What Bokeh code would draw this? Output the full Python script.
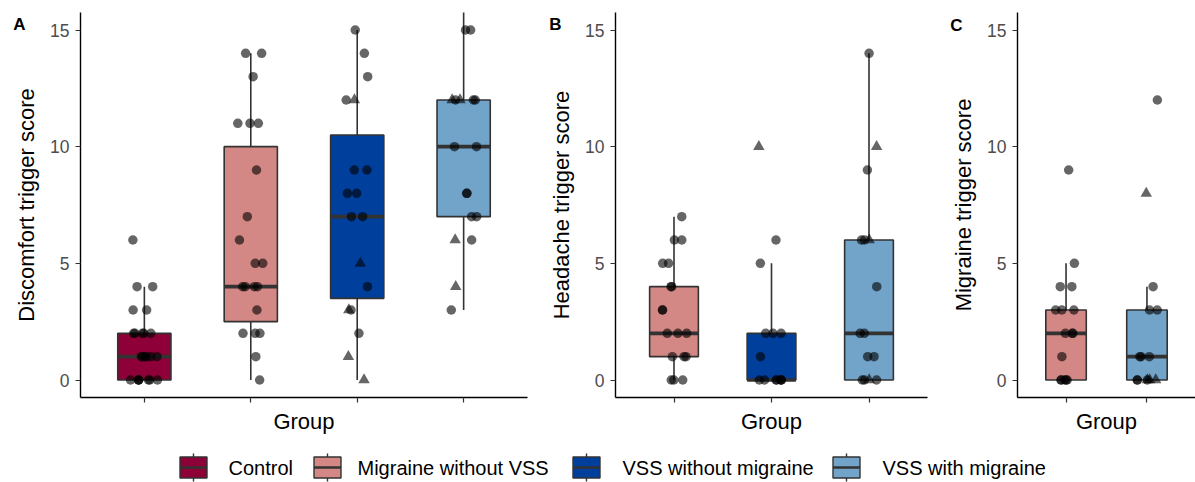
import numpy as np
from bokeh.plotting import figure
from bokeh.layouts import row
from bokeh.models import Range1d, FixedTicker, GridBox
from bokeh.embed import file_html
from bokeh.resources import INLINE
from bokeh.core.properties import value

FONT = "Liberation Sans"

groups = ["Control", "Migraine without VSS", "VSS without migraine", "VSS with migraine"]
group_colors = ["#8E0038", "#D38885", "#003F9B", "#72A3C9"]

# ---- Panel A: discomfort trigger score (all four groups) ----
a_groups = [0, 1, 2, 3]
a_circles = [
    [6, 4, 4, 3, 3, 2, 2, 2, 2, 2, 1, 1, 1, 1, 1, 1, 0, 0, 0, 0, 0, 0, 0],
    [14, 14, 13, 11, 11, 11, 9, 7, 6, 5, 5, 4, 4, 4, 4, 3, 2, 2, 2, 1, 0],
    [15, 14, 13, 12, 9, 9, 8, 8, 7, 7, 4, 3, 2],
    [15, 15, 12, 12, 12, 10, 10, 8, 8, 7, 7, 6, 3],
]
a_triangles = [
    [],
    [],
    [12, 5, 3, 1, 0],
    [12, 12, 6, 4],
]
a_lower = [0, 0, 0, 3]
a_q1 = [0, 2.5, 3.5, 7]
a_median = [1, 4, 7, 10]
a_q3 = [2, 10, 10.5, 12]
a_upper = [4, 14, 15, 16]

# ---- Panel B: headache trigger score ----
b_groups = [1, 2, 3]
b_circles = [
    [7, 6, 6, 5, 5, 4, 4, 3, 3, 2, 2, 2, 1, 1, 1, 0, 0, 0],
    [6, 5, 2, 2, 2, 1, 0, 0, 0, 0, 0, 0, 0],
    [14, 9, 6, 6, 4, 2, 2, 1, 1, 0, 0, 0],
]
b_triangles = [
    [],
    [10],
    [10, 6, 0],
]
b_lower = [0, 0, 0]
b_q1 = [1, 0, 0]
b_median = [2, 0, 2]
b_q3 = [4, 2, 6]
b_upper = [7, 5, 14]

# ---- Panel C: migraine trigger score ----
c_groups = [1, 3]
c_circles = [
    [9, 5, 4, 4, 3, 3, 3, 2, 2, 2, 1, 0, 0, 0, 0, 0],
    [12, 4, 3, 3, 1, 1, 1, 0, 0, 0],
]
c_triangles = [
    [],
    [8, 0, 0, 0],
]
c_lower = [0, 0]
c_q1 = [0, 0]
c_median = [2, 1]
c_q3 = [3, 3]
c_upper = [5, 4]

y_ticks = [0, 5, 10, 15]
panel_letters = ["A", "B", "C"]


def panel(gidx, circles, triangles, lower, q1, med, q3, upper, ylabel,
          width, border_left, border_right, seed):
    n = len(gidx)
    p = figure(width=width, height=440, output_backend="svg", toolbar_location=None,
               x_range=Range1d(0.4, n + 0.6), y_range=Range1d(-0.75, 15.75),
               min_border_left=border_left, min_border_right=border_right,
               min_border_top=12, min_border_bottom=43)
    xs = list(range(1, n + 1))
    fills = [group_colors[g] for g in gidx]
    box_w = 0.5

    # whiskers
    p.segment(x0=xs, y0=q3, x1=xs, y1=upper, line_color="#333333", line_width=1.6)
    p.segment(x0=xs, y0=lower, x1=xs, y1=q1, line_color="#333333", line_width=1.6)
    # boxes
    p.vbar(x=xs, bottom=q1, top=q3, width=box_w, fill_color=fills,
           line_color="#333333", line_width=1.6)
    # medians
    p.segment(x0=[x - box_w / 2 for x in xs], y0=med, x1=[x + box_w / 2 for x in xs], y1=med,
              line_color="#333333", line_width=3.6)

    # jittered observations
    rng = np.random.default_rng(seed)
    for i, x in enumerate(xs):
        cy = circles[i]
        cx = x + rng.uniform(-0.13, 0.13, len(cy))
        p.scatter(cx, cy, marker="circle", size=9.5, fill_color="black",
                  fill_alpha=0.6, line_alpha=0)
        ty = triangles[i]
        if ty:
            tx = x + rng.uniform(-0.13, 0.13, len(ty))
            p.scatter(tx, ty, marker="triangle", size=11.5, fill_color="black",
                      fill_alpha=0.6, line_alpha=0)

    p.xgrid.visible = False
    p.ygrid.visible = False
    p.outline_line_color = None

    for ax in (p.xaxis, p.yaxis):
        ax.axis_line_color = "black"
        ax.axis_line_width = 1.4
        ax.major_tick_line_color = "#333333"
        ax.major_tick_line_width = 1.2
        ax.major_tick_in = 0
        ax.major_tick_out = 5
        ax.minor_tick_line_color = None
        ax.axis_label_text_font = FONT
        ax.axis_label_text_font_size = "22px"
        ax.axis_label_text_font_style = "normal"
        ax.axis_label_text_color = "black"
        ax.major_label_text_font = FONT
        ax.major_label_text_font_size = "17.5px"
        ax.major_label_text_color = "#4D4D4D"

    p.xaxis.ticker = FixedTicker(ticks=xs)
    p.xaxis.major_label_overrides = {x: "" for x in xs}
    p.xaxis.axis_label = "Group"
    p.xaxis.axis_label_standoff = 6

    p.yaxis.ticker = FixedTicker(ticks=y_ticks)
    p.yaxis.axis_label = ylabel
    p.yaxis.major_label_standoff = 6
    p.yaxis.axis_label_standoff = 8
    return p


pa = panel(a_groups, a_circles, a_triangles, a_lower, a_q1, a_median, a_q3, a_upper,
           "Discomfort trigger score", 537, 80, 10, 3)
pb = panel(b_groups, b_circles, b_triangles, b_lower, b_q1, b_median, b_q3, b_upper,
           "Headache trigger score", 393, 78, 3, 5)
pc = panel(c_groups, c_circles, c_triangles, c_lower, c_q1, c_median, c_q3, c_upper,
           "Migraine trigger score", 265, 87, 0, 7)
panels = row(pa, pb, pc)

# ---- transparent overlay carrying the panel tags (pixel coordinates, y down) ----
tags = figure(width=1195, height=440, output_backend="svg", toolbar_location=None,
              x_range=Range1d(0, 1195), y_range=Range1d(440, 0), min_border=0)
tags.axis.visible = False
tags.grid.visible = False
tags.outline_line_color = None
tags.background_fill_color = None
tags.border_fill_color = None
tags.text(x=[19, 555, 956], y=[24, 24, 25], text=panel_letters, text_font=value(FONT),
          text_font_size="17px", text_font_style="bold", text_align="center",
          text_baseline="middle", text_color="black")

# ---- shared legend ----
leg = figure(width=1195, height=42, output_backend="svg", toolbar_location=None,
             x_range=Range1d(0, 1195), y_range=Range1d(0, 42), min_border=0)
leg.axis.visible = False
leg.grid.visible = False
leg.outline_line_color = None

key_x = [193, 327, 586, 846]
text_x = [228, 357, 622, 882]
ky = 15
leg.segment(x0=key_x, y0=[ky - 14] * 4, x1=key_x, y1=[ky + 14] * 4,
            line_color="#333333", line_width=1.4)
leg.rect(x=key_x, y=[ky] * 4, width=27, height=21, fill_color=group_colors,
         line_color="#333333", line_width=1.4)
leg.segment(x0=[k - 13.5 for k in key_x], y0=[ky] * 4, x1=[k + 13.5 for k in key_x], y1=[ky] * 4,
            line_color="#333333", line_width=2.5)
leg.text(x=text_x, y=[ky] * 4, text=groups, text_font=value(FONT),
         text_font_size="20px", text_baseline="middle", text_align="left",
         text_color="black")

layout = GridBox(children=[(panels, 0, 0), (tags, 0, 0), (leg, 1, 0)])
open("out.html", "w").write(file_html(layout, INLINE))
